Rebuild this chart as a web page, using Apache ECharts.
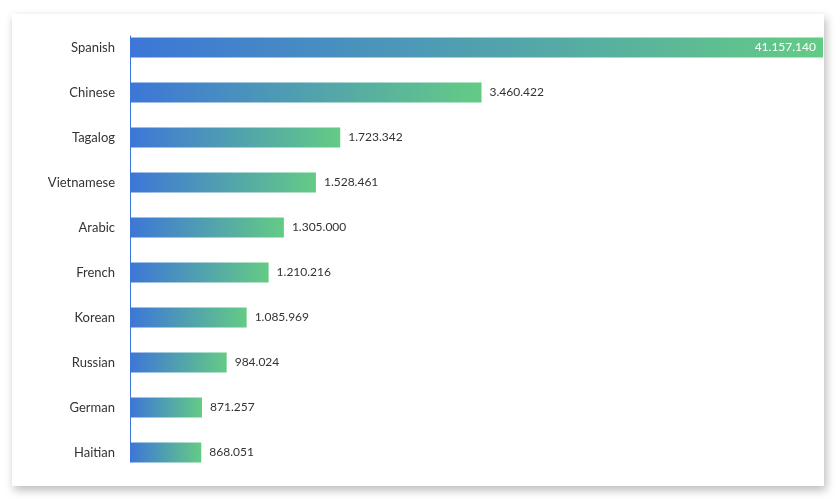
<!DOCTYPE html>
<html>
<head>
<meta charset="utf-8">
<script src="https://cdn.jsdelivr.net/npm/echarts@6/dist/echarts.min.js"></script>
<style>
  html, body { margin: 0; padding: 0; background: #fff; }
  #card {
    position: absolute; left: 12px; top: 14px; width: 812px; height: 472px;
    background: #fff; box-shadow: 2px 4px 9px rgba(0, 0, 0, 0.28);
  }
  #main { position: absolute; left: 0; top: 0; width: 840px; height: 502px; }
</style>
</head>
<body>
<div id="card"></div>
<div id="main"></div>
<script>
// languages spoken at home (top 10), top to bottom
var languages = ['Spanish', 'Chinese', 'Tagalog', 'Vietnamese', 'Arabic',
                 'French', 'Korean', 'Russian', 'German', 'Haitian'];
var speakers = [41157140, 3460422, 1723342, 1528461, 1305000,
                1210216, 1085969, 984024, 871257, 868051];

var colorLeft = '#3d76d8';
var colorRight = '#64cb85';

// dotted thousands: 1234567 -> 1.234.567
function dots(v) {
    return String(v).replace(/\B(?=(\d{3})+(?!\d))/g, '.');
}

var chart = echarts.init(document.getElementById('main'));

var barData = speakers.map(function (v, i) {
    var item = { value: v };
    if (i === 0) {
        // biggest bar runs off the axis, label goes inside
        item.label = { position: 'insideRight', color: '#fff', distance: 7 };
    }
    return item;
});

chart.setOption({
    backgroundColor: 'transparent',
    textStyle: { fontFamily: 'Lato, "Noto Sans", sans-serif' },
    grid: [
        { left: 130, right: 17, top: 25, height: 450 },
        { left: 130, right: 17, top: 36, height: 426 }   // only for the axis line
    ],
    xAxis: [
        { type: 'log', min: 610700, max: 18660000, show: false, gridIndex: 0 },
        { type: 'value', show: false, gridIndex: 1 }
    ],
    yAxis: [
        {
            type: 'category',
            gridIndex: 0,
            inverse: true,
            data: languages,
            axisLine: { show: false },
            axisTick: { show: false },
            splitLine: { show: false },
            axisLabel: { color: '#333', fontSize: 13, margin: 15 }
        },
        {
            type: 'value',
            gridIndex: 1,
            axisLine: { show: true, lineStyle: { color: colorLeft, width: 1 } },
            axisTick: { show: false },
            axisLabel: { show: false },
            splitLine: { show: false }
        }
    ],
    series: [
        {
            type: 'bar',
            xAxisIndex: 0,
            yAxisIndex: 0,
            barWidth: 20,
            clip: true,
            data: barData,
            itemStyle: {
                color: new echarts.graphic.LinearGradient(0, 0, 1, 0, [
                    { offset: 0, color: colorLeft },
                    { offset: 1, color: colorRight }
                ])
            },
            label: {
                show: true,
                position: 'right',
                distance: 8,
                color: '#333',
                fontSize: 12,
                formatter: function (p) { return dots(p.value); }
            }
        }
    ]
});
</script>
</body>
</html>
